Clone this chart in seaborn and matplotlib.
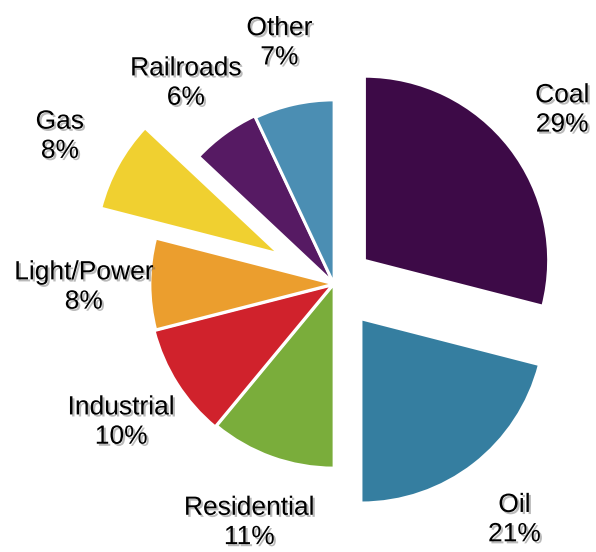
import matplotlib
matplotlib.use("Agg")
import matplotlib.pyplot as plt
import matplotlib.patheffects as pe
import seaborn as sns

categories = ["Coal", "Oil", "Residential", "Industrial", "Light/Power", "Gas", "Railroads", "Other"]
shares = [29, 21, 11, 10, 8, 8, 6, 7]
explode_frac = [0.21, 0.24, 0, 0.01, 0, 0.34, 0.01, 0]
colors = ["#3d0a47", "#357ea0", "#7aad3b", "#d0222c", "#eb9e2e", "#f0d030", "#561a63", "#4b8eb3"]

sns.set_theme(style="white")
plt.rcParams["font.family"] = ["Liberation Sans", "DejaVu Sans"]

fig = plt.figure(figsize=(5.96, 5.52), dpi=100)
ax = fig.add_axes([0, 0, 1, 1])

R = 184
labels = [f"{c}\n{v}%" for c, v in zip(categories, shares)]
wedges, texts = ax.pie(
    shares, labels=labels, colors=colors, explode=[e * R for e in explode_frac],
    startangle=90, counterclock=False, radius=R, center=(334, 268),
    labeldistance=1.36,
    wedgeprops=dict(edgecolor="white", linewidth=2),
    textprops=dict(fontsize=19, color="black", linespacing=1.28),
    frame=False,
)
for t in texts:
    t.set_ha("center")
    t.set_va("center")
    t.set_multialignment("center")
    x, y = t.get_position()
    t.set_position((x, y - 3))
    t.set_path_effects([pe.withSimplePatchShadow(offset=(1.5, -1.5), shadow_rgbFace="#666666", alpha=0.45)])

ax.set_xlim(0, 596)
ax.set_ylim(0, 552)
ax.set_aspect("equal")
ax.axis("off")

fig.savefig("out.png", dpi=100, facecolor="white")
